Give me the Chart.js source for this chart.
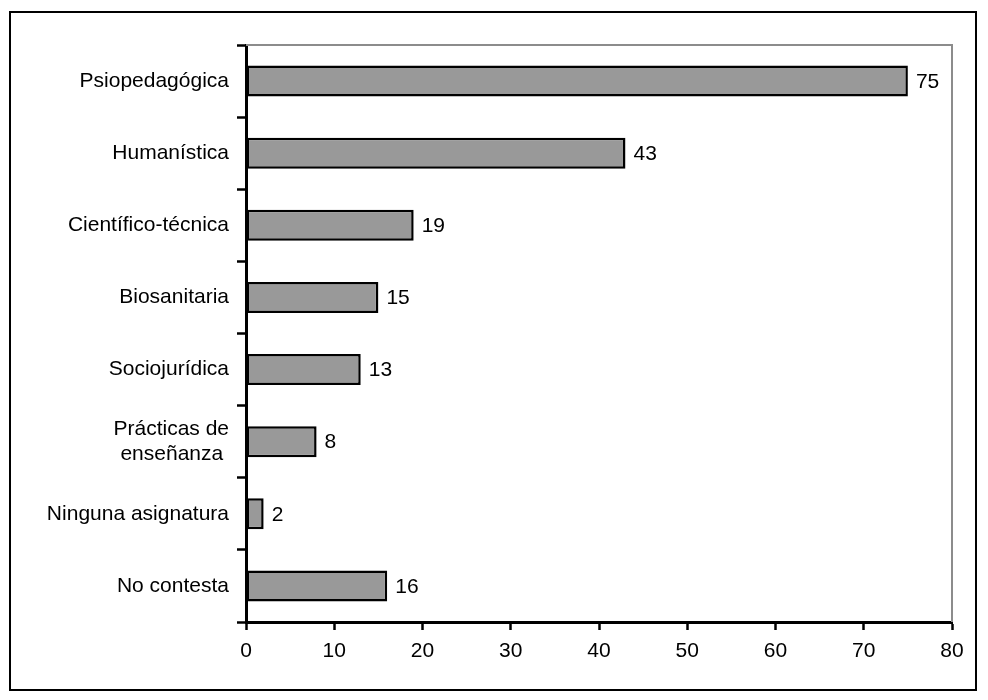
<!DOCTYPE html>
<html>
<head>
<meta charset="utf-8">
<script src="https://cdn.jsdelivr.net/npm/chart.js@4"></script>
<style>
  html, body { margin: 0; padding: 0; background: #ffffff; }
  #wrap { width: 988px; height: 700px; position: relative; }
</style>
</head>
<body>
<div id="wrap"><canvas id="c" width="988" height="700"></canvas></div>
<script>
// Subject areas and number of responses
const categories = [
  "Psiopedagógica",
  "Humanística",
  "Científico-técnica",
  "Biosanitaria",
  "Sociojurídica",
  ["Prácticas de", "enseñanza "],
  "Ninguna asignatura",
  "No contesta"
];
const responses = [75, 43, 19, 15, 13, 8, 2, 16];
const xTicks = [0, 10, 20, 30, 40, 50, 60, 70, 80];

const FONT = "'Liberation Sans', Arial, Helvetica, sans-serif";
const FONT_SIZE = 21;

// Frame around the whole figure plus the grey top/right edges of the plot
const framePlugin = {
  id: 'frame',
  beforeDraw(chart) {
    const ctx = chart.ctx;
    ctx.save();
    ctx.fillStyle = '#ffffff';
    ctx.fillRect(0, 0, chart.width, chart.height);
    ctx.restore();
  },
  afterDraw(chart) {
    const ctx = chart.ctx;
    const a = chart.chartArea;
    ctx.save();
    ctx.strokeStyle = '#8c8c8c';
    ctx.lineWidth = 2;
    ctx.beginPath();
    ctx.moveTo(a.left, a.top);
    ctx.lineTo(a.right, a.top);
    ctx.lineTo(a.right, a.bottom);
    ctx.stroke();
    ctx.strokeStyle = '#000000';
    ctx.lineWidth = 2;
    ctx.strokeRect(10, 12, 966, 678);
    ctx.restore();
  }
};

// Value printed just past the end of each bar
const valueLabels = {
  id: 'valueLabels',
  afterDatasetsDraw(chart) {
    const ctx = chart.ctx;
    const meta = chart.getDatasetMeta(0);
    ctx.save();
    ctx.fillStyle = '#000000';
    ctx.font = FONT_SIZE + 'px ' + FONT;
    ctx.textAlign = 'left';
    ctx.textBaseline = 'middle';
    meta.data.forEach((bar, i) => {
      ctx.fillText(String(responses[i]), bar.x + 8, bar.y + 1);
    });
    ctx.restore();
  }
};

new Chart(document.getElementById('c'), {
  type: 'bar',
  data: {
    labels: categories,
    datasets: [{
      data: responses,
      backgroundColor: '#999999',
      borderColor: '#000000',
      borderWidth: 2.5,
      borderSkipped: false,
      categoryPercentage: 0.86,
      barPercentage: 0.5
    }]
  },
  options: {
    indexAxis: 'y',
    responsive: false,
    animation: false,
    devicePixelRatio: 1,
    layout: { padding: { left: 0, top: 45, right: 36, bottom: 0 } },
    plugins: {
      legend: { display: false },
      tooltip: { enabled: false }
    },
    scales: {
      x: {
        min: 0,
        max: 80,
        afterBuildTicks(scale) {
          scale.ticks = xTicks.map(v => ({ value: v }));
        },
        afterFit(scale) { scale.height = 78; },
        grid: {
          drawOnChartArea: false,
          drawTicks: true,
          tickLength: 8,
          tickWidth: 2.5,
          tickColor: '#000000'
        },
        border: { display: true, color: '#000000', width: 3 },
        ticks: {
          color: '#000000',
          font: { family: FONT, size: FONT_SIZE },
          padding: 9,
          maxRotation: 0
        }
      },
      y: {
        offset: true,
        afterFit(scale) { scale.width = 246; },
        grid: {
          offset: true,
          drawOnChartArea: false,
          drawTicks: true,
          tickLength: 9,
          tickWidth: 2.5,
          tickColor: '#000000'
        },
        border: { display: true, color: '#000000', width: 3 },
        ticks: {
          color: '#000000',
          font: { family: FONT, size: FONT_SIZE, lineHeight: 1.15 },
          padding: 8
        }
      }
    }
  },
  plugins: [framePlugin, valueLabels]
});
</script>
</body>
</html>
